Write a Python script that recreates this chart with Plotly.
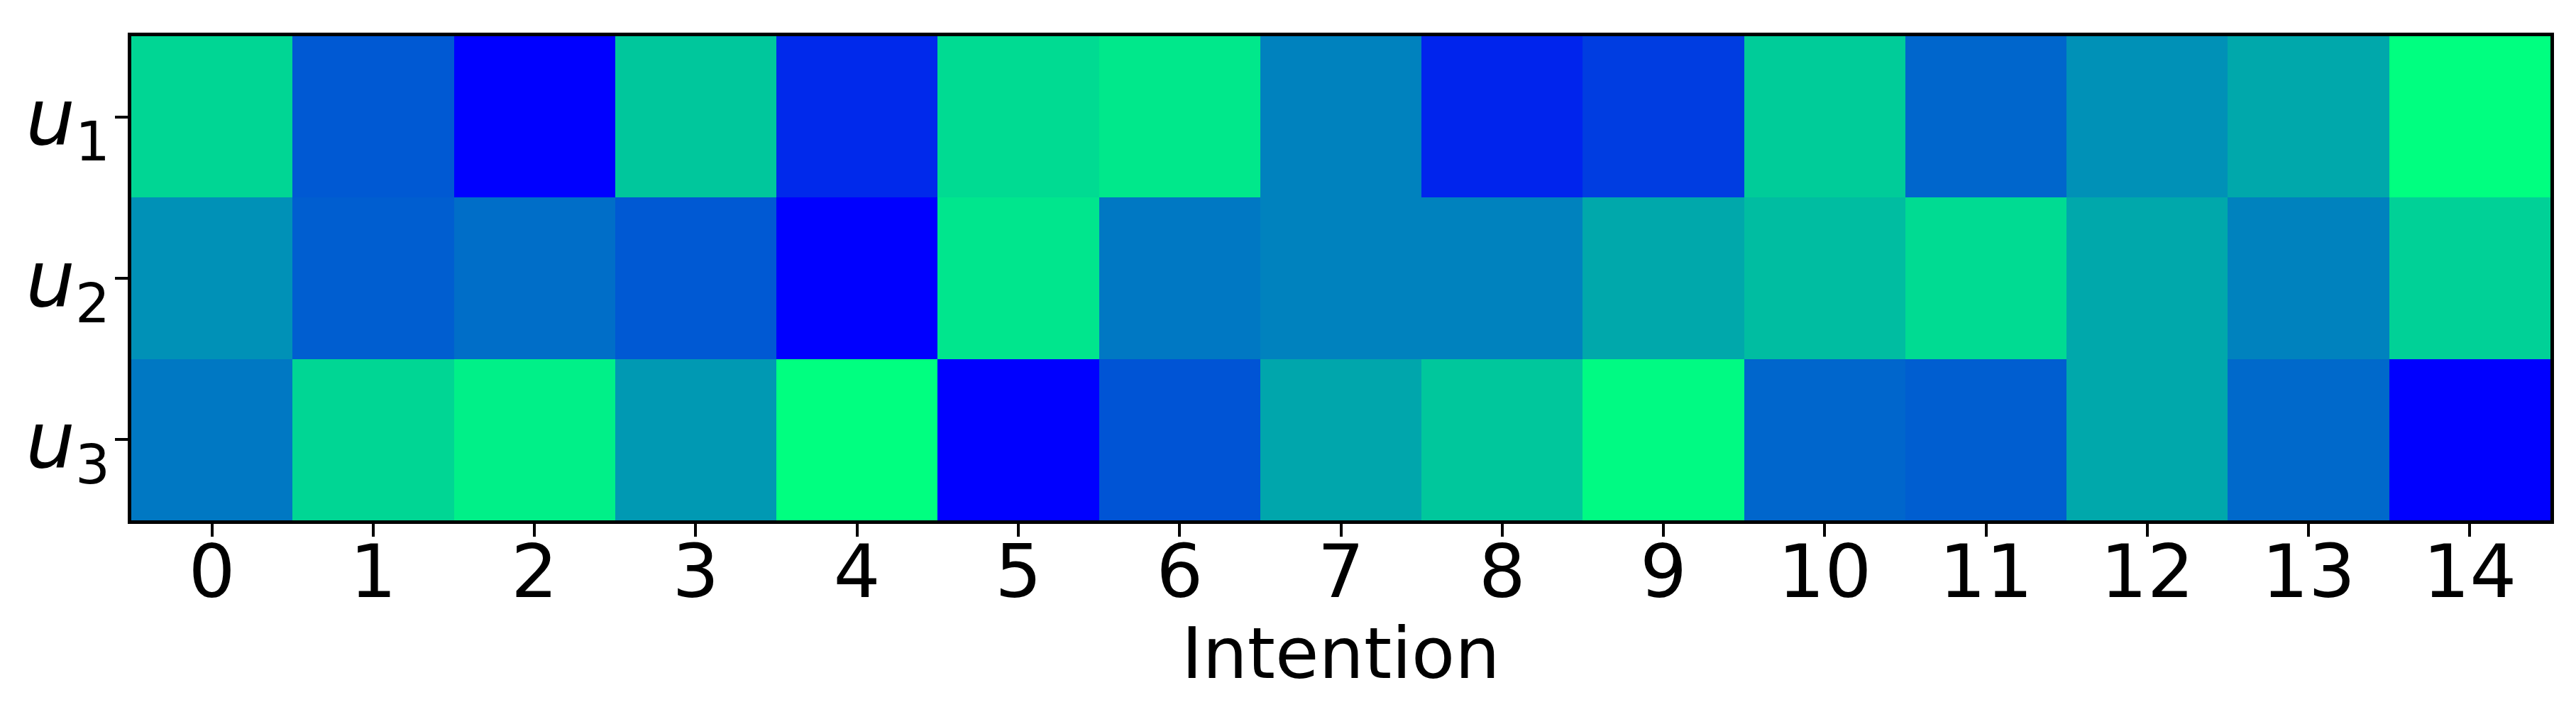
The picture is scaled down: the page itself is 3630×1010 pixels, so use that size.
import plotly.graph_objects as go

intentions = list(range(15))
users = ["<i>u</i><sub>1</sub>", "<i>u</i><sub>2</sub>", "<i>u</i><sub>3</sub>"]

u1 = [0.84, 0.35, 0.00, 0.78, 0.16, 0.86, 0.91, 0.51, 0.14, 0.24, 0.80, 0.40, 0.57, 0.66, 1.00]
u2 = [0.57, 0.37, 0.43, 0.35, 0.00, 0.90, 0.47, 0.51, 0.51, 0.66, 0.74, 0.86, 0.66, 0.51, 0.82]
u3 = [0.47, 0.84, 0.94, 0.60, 1.00, 0.00, 0.33, 0.65, 0.78, 0.98, 0.40, 0.37, 0.66, 0.41, 0.00]

# matplotlib "winter"
winter = [[0.0, "rgb(0,0,255)"], [1.0, "rgb(0,255,128)"]]

fig = go.Figure()
fig.add_trace(go.Heatmap(z=[u1, u2, u3], x=intentions, y=[0, 1, 2],
                         colorscale=winter, zmin=0, zmax=1,
                         showscale=False, xgap=0, ygap=0))

fig.update_layout(width=3630, height=1010,
                  margin=dict(l=177, r=44, t=43, b=285),
                  paper_bgcolor="white", plot_bgcolor="white",
                  font=dict(family="DejaVu Sans", size=100, color="black"))

# x axis title placed as annotation so it sits where the reference has it
fig.add_annotation(text="Intention", xref="paper", yref="paper", x=0.5, y=-0.275,
                   xanchor="center", yanchor="middle", showarrow=False,
                   font=dict(size=100))

fig.update_xaxes(tickvals=intentions, ticks="outside", ticklen=18, tickwidth=4,
                 tickcolor="black", showline=True, linecolor="black", linewidth=5,
                 mirror=True, showgrid=False, zeroline=False, automargin=False,
                 range=[-0.5, 14.5], ticklabelstandoff=-40,
                 tickfont=dict(size=104))
fig.update_yaxes(tickvals=[0, 1, 2], ticktext=users, ticks="outside", ticklen=18,
                 tickwidth=4, tickcolor="black", showline=True, linecolor="black",
                 linewidth=5, mirror=True, showgrid=False, zeroline=False,
                 automargin=False, range=[2.5, -0.5], ticklabelstandoff=-15,
                 tickfont=dict(size=110))

fig.write_html("out.html")
